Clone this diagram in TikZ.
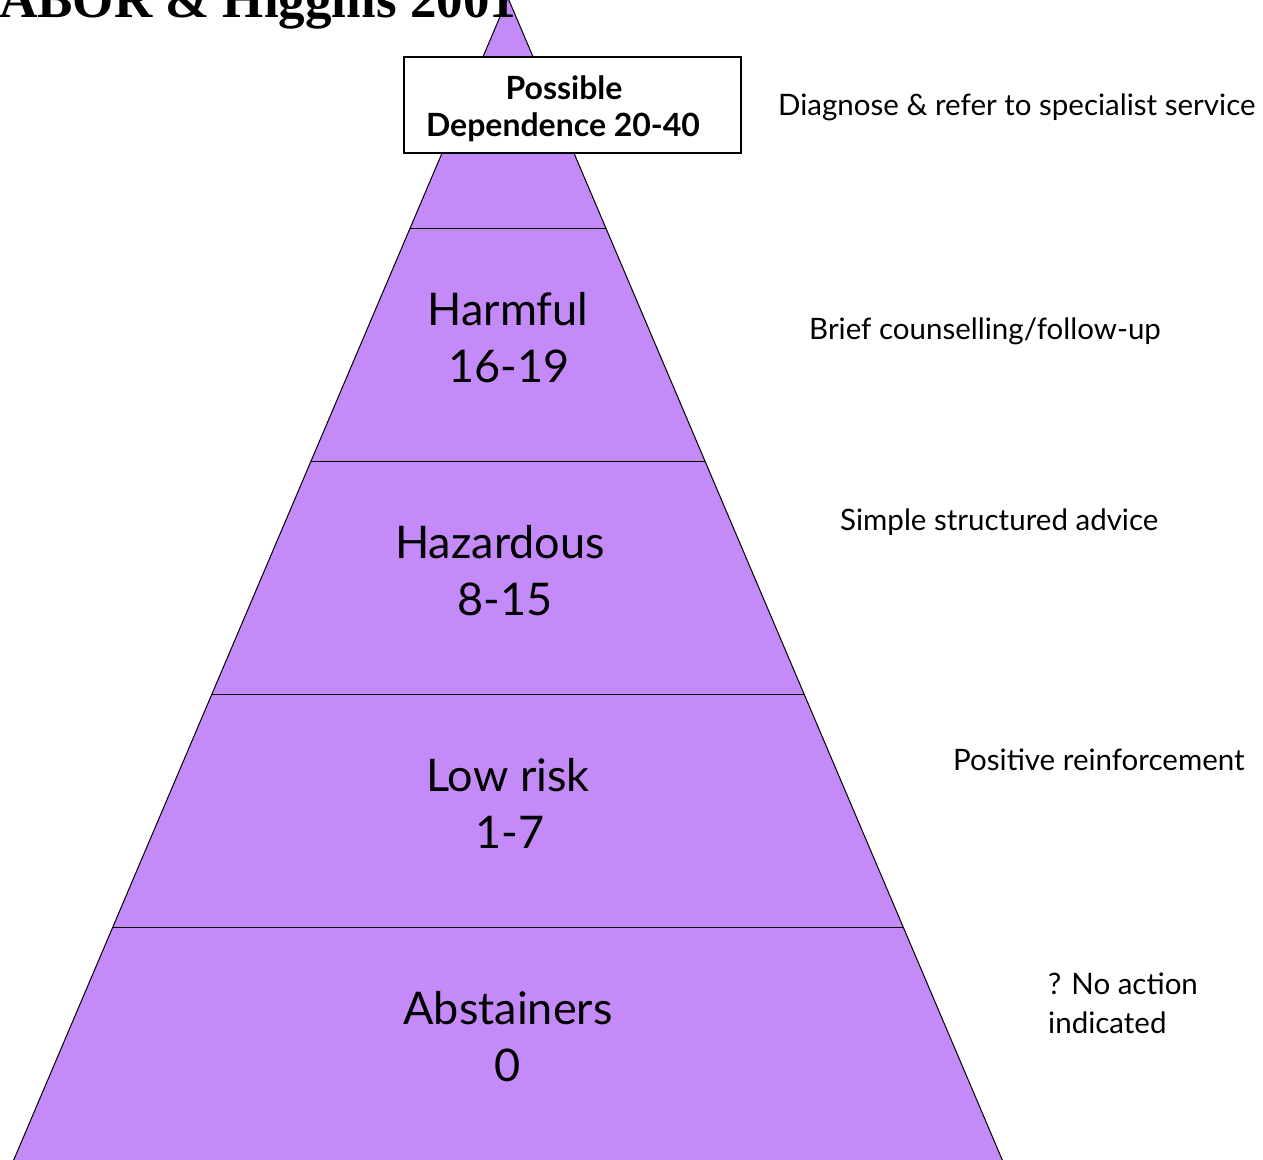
\documentclass[tikz,border=0pt]{standalone}
\usepackage{fontspec}
\setmainfont{Lato}
\newfontfamily\titlefont{Liberation Serif}
\definecolor{pyr}{RGB}{196,139,248}
\begin{document}
\begin{tikzpicture}[x=1pt,y=-1pt,
  band/.style={draw=black,line width=1pt},
  big/.style={anchor=base,inner sep=0pt,font=\fontsize{45}{54}\selectfont},
  side/.style={anchor=base west,inner sep=0pt,font=\fontsize{29.5}{35}\selectfont},
  boxtxt/.style={anchor=base,inner sep=0pt,font=\bfseries\fontsize{32}{38}\selectfont}]
\useasboundingbox (0,0) rectangle (1263,1159);
\clip (0,0) rectangle (1263,1159);
% pyramid
\filldraw[fill=pyr,draw=black,line width=1pt] (508,-2) -- (-3.3,1200) -- (1019.3,1200) -- cycle;
\draw[band] (410,228) -- (606,228);
\draw[band] (311,461) -- (705,461);
\draw[band] (212,694) -- (804,694);
\draw[band] (112.8,927) -- (903.2,927);
% title
\node[anchor=base west,inner sep=0pt,font=\titlefont\bfseries\fontsize{53}{60}\selectfont] (title) at (-1,17) {ABOR \& Higgins 2001};
% top box
\node[draw=black,fill=white,line width=2pt,minimum width=337pt,minimum height=96pt,inner sep=0pt] (box) at (572.5,105) {};
\node[boxtxt] (pos) at (564,99) {Possible};
\node[boxtxt] (dep) at (563,136) {Dependence 20-40};
% band labels
\node[big] (harm) at (508,325) {Harmful};
\node[big] (harmn) at (509,382) {16-19};
\node[big] (haz) at (500,558) {Hazardous};
\node[big] (hazn) at (505,615) {8-15};
\node[big] (low) at (508,791) {Low risk};
\node[big] (lown) at (510,848) {1-7};
\node[big] (abs) at (508,1024) {Abstainers};
\node[big] (absn) at (508,1081) {0};
% side texts
\node[side] (s1) at (778,115) {Diagnose \& refer to specialist service};
\node[side] (s2) at (809,339) {Brief counselling/follow-up};
\node[side] (s3) at (840,530) {Simple structured advice};
\node[side] (s4) at (953,770) {Positive reinforcement};
\node[side] (s5) at (1048,994) {? No action};
\node[side] (s6) at (1048,1033) {indicated};
\end{tikzpicture}
\end{document}
